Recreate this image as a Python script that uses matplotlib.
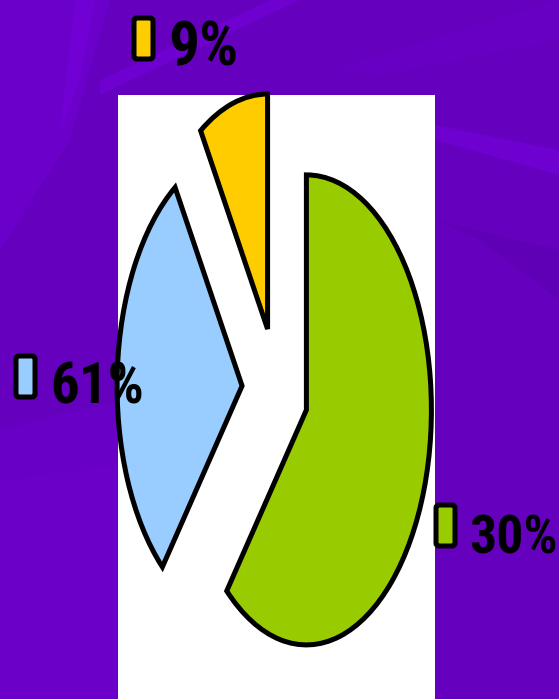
import matplotlib
import numpy as np
import matplotlib.pyplot as plt
from matplotlib import font_manager
from matplotlib.ft2font import FT2Font
from matplotlib.patches import Rectangle, Polygon, FancyBboxPatch

# slices, clockwise from 12 o'clock
values = [61, 30, 9]
legend_labels = ['30%', '61%', '9%']
colors = ['#99CC00', '#99CCFF', '#FFCC00']
explode = [0.25, 0.28, 0.27]

W, H = 559, 699

fig = plt.figure(figsize=(W / 100, H / 100), dpi=100)
fig.patch.set_facecolor('#6500BE')
renderer = fig.canvas.get_renderer()

FAMILIES = ('Liberation', 'Noto Sans', 'Open Sans', 'Roboto', 'DejaVu Sans', 'Lato', 'Inter')


def pick_narrow_bold():
    # narrowest bold upright face among the usual text families that has digits and %
    best, best_w = None, None
    needed = [ord(ch) for ch in '0123456789%']
    for f in font_manager.fontManager.ttflist:
        if not f.name.startswith(FAMILIES) or 'Mono' in f.name or 'CJK' in f.name:
            continue
        w = f.weight
        bold = w in ('bold', 'semibold', 'heavy', 'black') or (isinstance(w, int) and w >= 600)
        if not bold or f.style != 'normal':
            continue
        try:
            cmap = FT2Font(f.fname).get_charmap()
        except Exception:
            continue
        if not all(c in cmap for c in needed):
            continue
        fp = font_manager.FontProperties(fname=f.fname)
        t = fig.text(0, 0, '61%', fontproperties=fp, fontsize=10)
        width = t.get_window_extent(renderer).width
        t.remove()
        if width > 0 and (best_w is None or width < best_w):
            best, best_w = fp, width
    return best or font_manager.FontProperties(family='DejaVu Sans', weight='bold')


# background layer in pixel coords (y down)
bg = fig.add_axes([0, 0, 1, 1], zorder=0)
bg.set_xlim(0, W)
bg.set_ylim(H, 0)
bg.axis('off')

bands = [
    ([(0, 0), (110, 0), (70, 140), (0, 250)], '#6B00CA'),
    ([(75, 0), (95, 0), (80, 80), (60, 130)], '#7000D4'),
    ([(100, 80), (270, 0), (300, 0), (100, 95)], '#6E00D0'),
    ([(330, 70), (559, 0), (559, 40), (380, 75)], '#6800C4'),
    ([(435, 125), (559, 150), (559, 175), (435, 140)], '#6E00D0'),
    ([(0, 430), (118, 400), (118, 470), (0, 520)], '#6900C6'),
    ([(0, 480), (118, 465), (118, 699), (0, 699)], '#6B00C8'),
    ([(435, 220), (559, 250), (559, 300), (480, 240)], '#6000B6'),
]
for pts, c in bands:
    bg.add_patch(Polygon(pts, closed=True, facecolor=c, edgecolor='none'))

# white plot area
bg.add_patch(Rectangle((118, 95), 317, 610, facecolor='white', edgecolor='none'))

# pie axes stretched to an ellipse
ax = fig.add_axes([152 / W, 1 - 625 / H, 250 / W, 470 / H], zorder=1)
wedges, _ = ax.pie(values, colors=colors, explode=explode, startangle=90,
                   counterclock=False,
                   wedgeprops=dict(edgecolor='black', linewidth=3.6))
for w in wedges:
    w.set_clip_on(False)
ax.set_xlim(-1, 1)
ax.set_ylim(-1, 1)
ax.set_aspect('auto')
ax.axis('off')

# legend entries on top
top = fig.add_axes([0, 0, 1, 1], zorder=2)
top.set_xlim(0, W)
top.set_ylim(H, 0)
top.axis('off')
top.patch.set_alpha(0)

fp = pick_narrow_bold()

# (box x, box y top, text x, baseline, max text width) in pixels
entries = [(436, 505, 469, 553, 89), (16, 356, 50, 404, 94), (134, 18, 168, 65, 70)]
for (bx, by, tx, ty, tw), lab, c in zip(entries, legend_labels, colors):
    top.add_patch(FancyBboxPatch((bx, by), 19, 41, boxstyle='round,pad=0,rounding_size=3',
                                 facecolor=c, edgecolor='black', linewidth=3.6))
    t = top.text(tx, ty, lab, fontproperties=fp, fontsize=10, color='black',
                 ha='left', va='baseline')
    bb = t.get_window_extent(renderer)
    t.set_fontsize(min(10 * tw / bb.width, 52))

plt.savefig('out.png', dpi=100, facecolor=fig.get_facecolor())
